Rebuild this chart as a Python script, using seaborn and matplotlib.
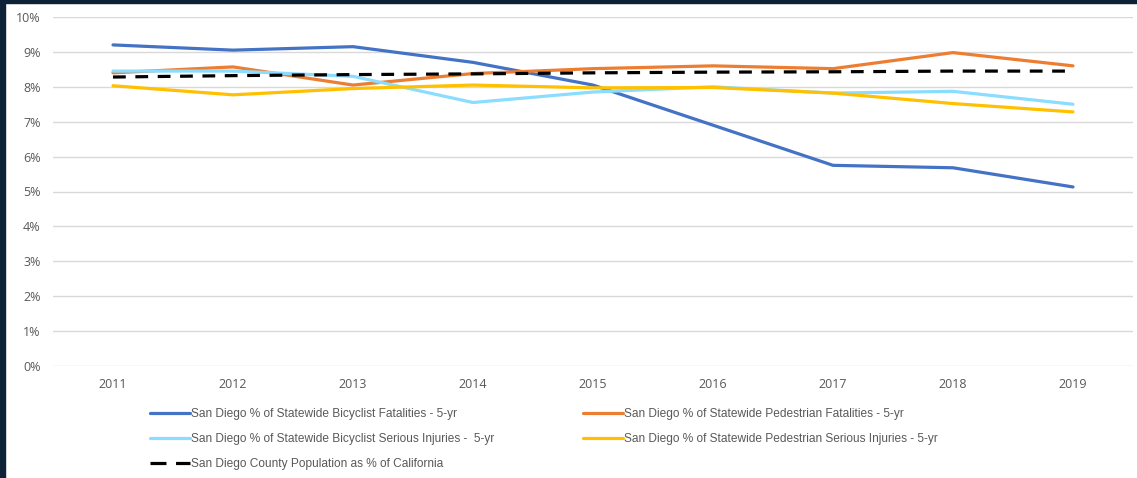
import matplotlib
matplotlib.use("Agg")
import matplotlib.pyplot as plt
import matplotlib.patches as mpatches
from matplotlib.lines import Line2D
import seaborn as sns
import pandas as pd

years = [2011, 2012, 2013, 2014, 2015, 2016, 2017, 2018, 2019]
bike_fatal = [9.20, 9.05, 9.15, 8.70, 8.05, 6.90, 5.75, 5.68, 5.13]
ped_fatal = [8.40, 8.57, 8.05, 8.38, 8.52, 8.60, 8.52, 8.98, 8.60]
bike_serious = [8.45, 8.45, 8.30, 7.55, 7.85, 8.00, 7.82, 7.87, 7.50]
ped_serious = [8.03, 7.77, 7.95, 8.05, 7.97, 7.98, 7.82, 7.52, 7.28]
population = [8.28, 8.32, 8.35, 8.37, 8.40, 8.42, 8.43, 8.45, 8.45]

names = [
    "San Diego % of Statewide Bicyclist Fatalities - 5-yr",
    "San Diego % of Statewide Pedestrian Fatalities - 5-yr",
    "San Diego % of Statewide Bicyclist Serious Injuries -  5-yr",
    "San Diego % of Statewide Pedestrian Serious Injuries - 5-yr",
    "San Diego County Population as % of California",
]
series = [bike_fatal, ped_fatal, bike_serious, ped_serious, population]
colors = ["#4472C4", "#ED7D31", "#8BDDFF", "#FFC000", "#000000"]
ytick_vals = list(range(0, 11))
ytick_labels = [f"{v}%" for v in ytick_vals]

rows = []
for n, s in zip(names, series):
    for y, v in zip(years, s):
        rows.append({"year": y, "value": v, "series": n})
df = pd.DataFrame(rows)

sns.set_theme(style="white")
plt.rcParams["font.family"] = ["Liberation Sans", "DejaVu Sans"]

fig = plt.figure(figsize=(11.37, 4.78), dpi=100)
ax = fig.add_axes([53 / 1137, 1 - 366 / 478, (1133 - 53) / 1137, (366 - 17) / 478])

palette = dict(zip(names, colors))
for n in names:
    sub = df[df["series"] == n]
    sns.lineplot(data=sub, x="year", y="value", ax=ax, color=palette[n],
                 linewidth=2.3, legend=False,
                 linestyle=(0, (4, 3)) if n == names[4] else "-",
                 zorder=3 if n != names[4] else 4)

ax.set_xlim(2010.5, 2019.5)
ax.set_ylim(0, 10)
ax.set_xticks(years)
ax.set_xticklabels([str(y) for y in years], fontsize=9, color="#595959",
                   family=["Open Sans", "DejaVu Sans"])
ax.set_yticks(ytick_vals)
ax.set_yticklabels(ytick_labels, fontsize=9, color="#595959",
                   family=["Open Sans", "DejaVu Sans"])
ax.tick_params(axis="x", length=0, pad=9)
ax.tick_params(axis="y", length=0, pad=9)
ax.grid(axis="y", color="#D9D9D9", linewidth=1)
ax.set_axisbelow(True)
for sp in ax.spines.values():
    sp.set_visible(False)
ax.set_xlabel("")
ax.set_ylabel("")

handles = []
for n, c in zip(names, colors):
    ls = (0, (5, 3)) if c == "#000000" else "-"
    handles.append(Line2D([0], [0], color=c, linewidth=2.3, linestyle=ls, label=n))
order = [0, 2, 4, 1, 3]
leg = fig.legend([handles[i] for i in order], [names[i] for i in order],
                 ncol=2, loc="upper left", bbox_to_anchor=(145 / 1137, 1 - 403 / 478),
                 frameon=False, prop={"family": ["Liberation Sans", "DejaVu Sans"], "size": 8.6},
                 handlelength=3.4, handletextpad=0.05,
                 columnspacing=7.4, labelspacing=1.1, borderaxespad=0)
for t in leg.get_texts():
    t.set_color("#595959")

fig.patches.append(mpatches.Rectangle((0, 0), 5 / 1137, 1, transform=fig.transFigure,
                                      color="#0D2236", zorder=10))
fig.patches.append(mpatches.Rectangle((0, 1 - 3 / 478), 1, 3 / 478, transform=fig.transFigure,
                                      color="#0D2236", zorder=10))

fig.savefig("out.png", dpi=100)
